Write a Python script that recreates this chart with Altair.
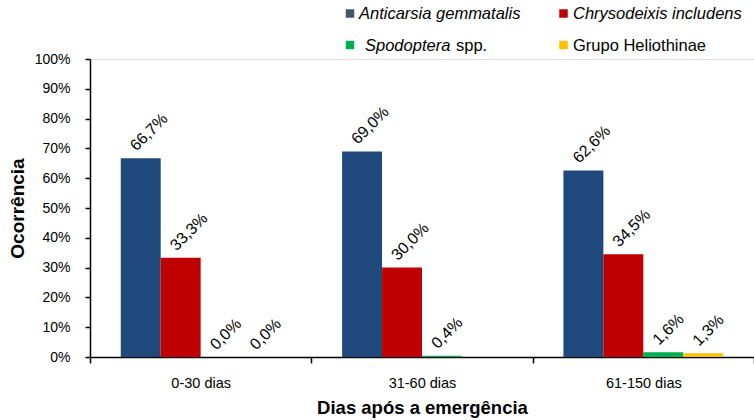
import altair as alt
import pandas as pd

# Occurrence (%) of each caterpillar group by crop stage
periods = ["0-30 dias", "31-60 dias", "61-150 dias"]
species = ["Anticarsia gemmatalis", "Chrysodeixis includens", "Spodoptera spp.", "Grupo Heliothinae"]
colors = ["#1F497D", "#C00000", "#00B050", "#FFC000"]

anticarsia = [66.7, 69.0, 62.6]
chrysodeixis = [33.3, 30.0, 34.5]
spodoptera = [0.0, 0.4, 1.6]
heliothinae = [0.0, None, 1.3]

rows = []
for series, vals in zip(species, [anticarsia, chrysodeixis, spodoptera, heliothinae]):
    for period, v in zip(periods, vals):
        rows.append({
            "period": period,
            "species": series,
            "value": 0.0 if v is None else v,
            "label": "" if v is None else f"{v:.1f}%".replace(".", ","),
        })
df = pd.DataFrame(rows)

FONT = "Liberation Sans"

base = alt.Chart(df).encode(
    x=alt.X(
        "period:N",
        sort=periods,
        scale=alt.Scale(paddingInner=0, paddingOuter=0),
        axis=alt.Axis(
            title="Dias após a emergência",
            labelAngle=0,
            tickBand="extent",
            tickSize=6,
            tickColor="black",
            tickWidth=1.5,
            domainColor="black",
            domainWidth=1.5,
            labelFont=FONT,
            labelFontSize=14.5,
            labelColor="black",
            labelPadding=13,
            titleFont=FONT,
            titleFontSize=18.5,
            titleFontWeight="bold",
            titleColor="black",
            titlePadding=9,
        ),
    ),
    xOffset=alt.XOffset(
        "species:N",
        sort=species,
        scale=alt.Scale(paddingInner=0, paddingOuter=0.77),
    ),
    y=alt.Y(
        "value:Q",
        scale=alt.Scale(domain=[0, 100], nice=False),
        axis=alt.Axis(
            title="Ocorrência",
            values=list(range(0, 101, 10)),
            labelExpr="datum.value + '%'",
            grid=False,
            tickSize=5,
            tickColor="black",
            tickWidth=1.5,
            domainColor="black",
            domainWidth=1.5,
            labelFont=FONT,
            labelFontSize=14,
            labelColor="black",
            labelPadding=15,
            titleFont=FONT,
            titleFontSize=19,
            titleFontWeight="bold",
            titleColor="black",
            titlePadding=7,
        ),
    ),
)

bars = base.mark_bar().encode(
    color=alt.Color("species:N", sort=species,
                    scale=alt.Scale(domain=species, range=colors), legend=None)
)

labels = base.mark_text(
    angle=315, align="left", baseline="alphabetic", dx=1.5, dy=-7.5,
    font=FONT, fontSize=16, color="black",
).encode(text="label:N")

# Legend drawn by hand so that the scientific names can be italic
legend_swatch = ["#44546A", "#C00000", "#00B050", "#FFC000"]


def swatch(color, x, y):
    return alt.Chart(pd.DataFrame({"c": [color]})).mark_square(
        size=72, color=color, opacity=1
    ).encode(x=alt.value(x), y=alt.value(y))


def legend_text(text, x, y, style="normal"):
    return alt.Chart(pd.DataFrame({"t": [text]})).mark_text(
        align="left", baseline="alphabetic", font=FONT, fontSize=16.5,
        fontStyle=style, color="black",
    ).encode(text="t:N", x=alt.value(x), y=alt.value(y))


legend = [
    swatch(legend_swatch[0], 260, -45.5),
    legend_text(species[0], 269, -40.5, "italic"),
    swatch(legend_swatch[1], 473.5, -45.5),
    legend_text(species[1], 483, -40.5, "italic"),
    swatch(legend_swatch[2], 260, -14),
    legend_text("Spodoptera", 275, -8.5, "italic"),
    legend_text("spp.", 366, -8.5),
    swatch(legend_swatch[3], 473.5, -14),
    legend_text(species[3], 483, -8.5),
]

chart = alt.layer(bars, labels, *legend).properties(
    width=664,
    height=298,
    autosize=alt.AutoSizeParams(type="none"),
    padding={"left": 90, "top": 59, "right": 0, "bottom": 63},
).configure_view(stroke=None).configure(background="white")

chart.save("out.html", embed_options={"renderer": "svg", "actions": False})
